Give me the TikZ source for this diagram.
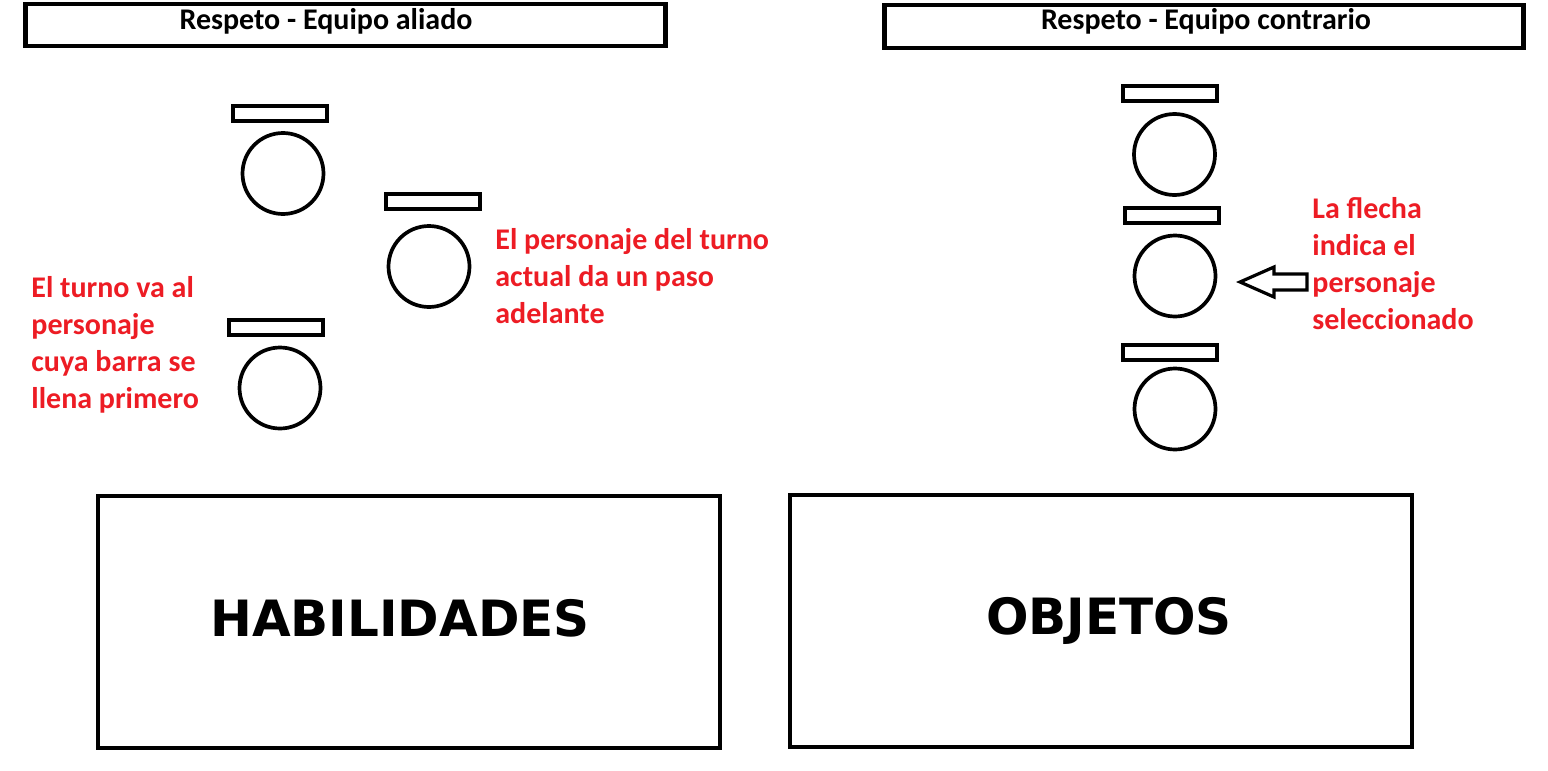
\documentclass[tikz,border=0pt]{standalone}
\usepackage{fontspec}
\setmainfont{Carlito}
\newfontfamily\bigfont{DejaVu Sans}
\definecolor{paintred}{HTML}{ED1C24}
\begin{document}
\begin{tikzpicture}[x=0.5pt,y=-0.5pt,
 frame/.style={draw,line width=2.2pt},
 bar/.style={draw,line width=2pt,minimum width=47pt,minimum height=7.5pt,inner sep=0},
 head/.style={draw,circle,line width=1.85pt,minimum size=40.5pt,inner sep=0},
 title/.style={font=\bfseries\fontsize{15}{18}\selectfont,anchor=base,inner sep=0},
 note/.style={text=paintred,font=\bfseries\fontsize{15}{18.5}\selectfont,align=left,anchor=base west,inner sep=0},
 menu/.style={font=\bigfont\bfseries\fontsize{25}{30}\selectfont,anchor=base,inner sep=0}]
\useasboundingbox (0,0) rectangle (1548,771);
\fill[white] (0,0) rectangle (1548,771);
% title boxes
\draw[frame] (25.5,4) rectangle (665.5,46);
\draw[frame] (884.5,5) rectangle (1523.5,48);
\node[title] (t1) at (326,29.5) {Respeto - Equipo aliado};
\node[title] (t2) at (1206,29.5) {Respeto - Equipo contrario};
% allied team
\node[bar] (ab1) at (280,113.5) {};
\node[head] (ac1) at (283,173.5) {};
\node[bar] (ab2) at (433,201.5) {};
\node[head] (ac2) at (429,266.5) {};
\node[bar] (ab3) at (276,327) {};
\node[head] (ac3) at (280,388) {};
% enemy team
\node[bar] (eb1) at (1170,93) {};
\node[head] (ec1) at (1174.5,154.5) {};
\node[bar] (eb2) at (1172,215) {};
\node[head] (ec2) at (1175,276) {};
\node[bar] (eb3) at (1170,352) {};
\node[head] (ec3) at (1175,409) {};
% selection arrow
\draw[line width=1.6pt,line join=miter] (1240,282) -- (1274,267) -- (1274,274) -- (1307,274) -- (1307,290) -- (1274,290) -- (1274,297) -- cycle;
% notes (base anchor = baseline of last line)
\node[note] (n1) at (31,408) {El turno va al\\personaje\\cuya barra se\\llena primero};
\node[note] (n2) at (495,323) {El personaje del turno\\actual da un paso\\adelante};
\node[note] (n3) at (1312,329) {La flecha\\indica el\\personaje\\seleccionado};
% menus
\draw[frame] (98,496) rectangle (720,748);
\draw[frame] (790,495) rectangle (1412,747);
\node[menu] (m1) at (400,636) {HABILIDADES};
\node[menu] (m2) at (1109,634) {OBJETOS};
\end{tikzpicture}
\end{document}
